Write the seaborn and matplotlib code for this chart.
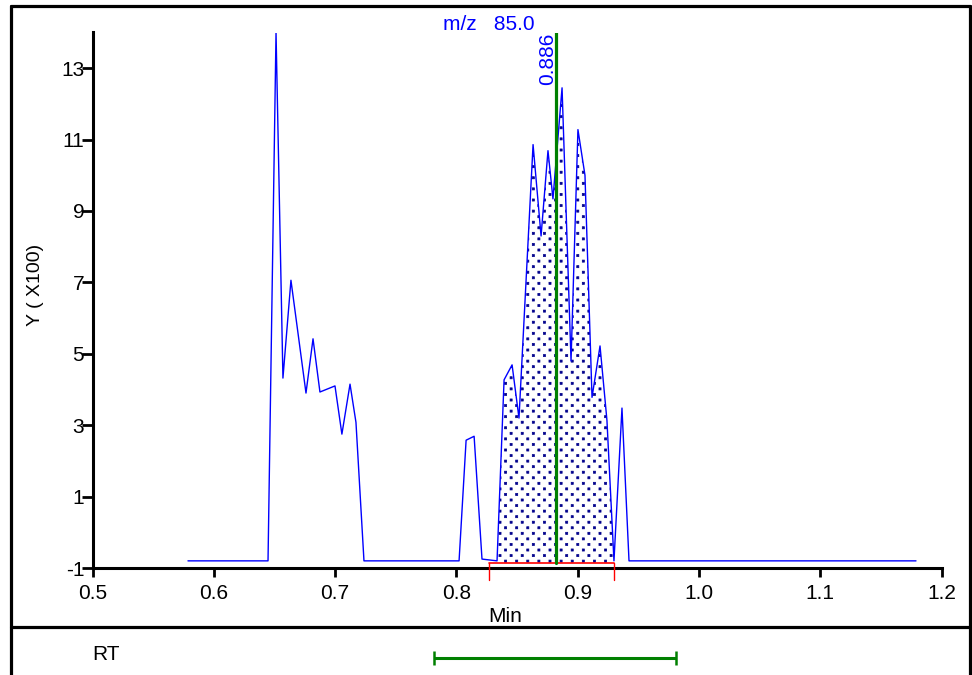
import numpy as np
import matplotlib
matplotlib.use("Agg")
import matplotlib.pyplot as plt
import matplotlib.hatch as mhatch
from matplotlib.path import Path
from matplotlib.lines import Line2D
import seaborn as sns

# ---- data ----
rt = [0.5787, 0.6447, 0.6513, 0.6570, 0.6636, 0.6760, 0.6818, 0.6875, 0.6999,
      0.7056, 0.7123, 0.7172, 0.7238, 0.8022, 0.8080, 0.8146, 0.8211, 0.8335,
      0.8393, 0.8459, 0.8516, 0.8632, 0.8698, 0.8755, 0.8796, 0.8871, 0.8945,
      0.9002, 0.9060, 0.9118, 0.9184, 0.9241, 0.9299, 0.9365, 0.9423, 1.1789]
intensity = [-0.80, -0.80, 14.00, 4.32, 7.06, 3.90, 5.42, 3.93, 4.10,
             2.75, 4.15, 3.08, -0.80, -0.80, 2.58, 2.69, -0.75, -0.80,
             4.27, 4.69, 3.20, 10.86, 8.30, 10.69, 9.34, 12.45, 4.80,
             11.28, 10.00, 3.78, 5.22, 3.14, -0.80, 3.48, -0.80, -0.80]
peak_start = 0.8269
peak_end = 0.9299
fill_start = 0.8335
peak_base = -0.86
apex_rt = 0.8819
apex_label = "0.886"
mass_label = "m/z   85.0"
rt_window = (0.7819, 0.9814)
x_ticks = [0.5, 0.6, 0.7, 0.8, 0.9, 1.0, 1.1, 1.2]
y_ticks = [-1, 1, 3, 5, 7, 9, 11, 13]


# ---- staggered square-dot hatch texture (replaces the '.' hatch) ----
class StaggerDots(mhatch.HatchPatternBase):
    def __init__(self, hatch, density):
        n = hatch.count('.')
        self.pts = []
        if n:
            ncols, nrows = 9, 18
            for r in range(nrows + 1):
                yy = r / nrows
                if r % 2 == 0:
                    xs = np.arange(ncols + 1) / ncols
                else:
                    xs = (np.arange(ncols) + 0.5) / ncols
                for xx in xs:
                    self.pts.append((xx, yy))
        self.sq = np.array([[-1, -1], [1, -1], [1, 1], [-1, 1], [-1, -1]], float)
        self.sq_codes = np.array([Path.MOVETO, Path.LINETO, Path.LINETO,
                                  Path.LINETO, Path.CLOSEPOLY], dtype=Path.code_type)
        self.num_vertices = len(self.pts) * 5

    def set_vertices_and_codes(self, vertices, codes):
        sv = self.sq * 0.0105
        np.concatenate([sv + np.array(p) for p in self.pts], out=vertices)
        np.concatenate([self.sq_codes] * len(self.pts), out=codes)


try:
    mhatch._hatch_types = [StaggerDots if t is mhatch.SmallFilledCircles else t
                           for t in mhatch._hatch_types]
except Exception:
    pass

sns.set_theme(style="ticks")
plt.rcParams["font.family"] = ["Liberation Sans", "DejaVu Sans"]
plt.rcParams["hatch.color"] = "#00008B"
plt.rcParams["hatch.linewidth"] = 0.5

W, H = 972, 675
fig = plt.figure(figsize=(W / 100, H / 100), dpi=100)
fig.patch.set_facecolor("white")

ax_l, ax_r, ax_t, ax_b = 92.5, 941.6, 32.5, 568.0
ax = fig.add_axes([ax_l / W, 1 - ax_b / H, (ax_r - ax_l) / W, (ax_b - ax_t) / H])
ax.set_facecolor("white")

sns.lineplot(x=rt, y=intensity, ax=ax, color="#0000FF", lw=1.0,
             estimator=None, sort=False, legend=False)

x = np.array(rt)
y = np.array(intensity)
mask = (x >= fill_start - 1e-9) & (x <= peak_end + 1e-9)
ax.fill_between(x[mask], y[mask], peak_base, facecolor="white",
                edgecolor="#00008B", hatch=".", linewidth=0, zorder=1)
ax.lines[0].set_zorder(3)

# integration baseline and markers
ax.plot([peak_start, peak_end], [peak_base, peak_base], color="red", lw=1.2, zorder=4)
for xv in (peak_start, peak_end):
    ax.plot([xv, xv], [peak_base, -1.34], color="red", lw=1.0, clip_on=False, zorder=4)

# apex line
ax.plot([apex_rt, apex_rt], [peak_base, 14], color="#008000", lw=2.3, zorder=5)
ax.text(apex_rt - 0.0064, 14, apex_label, rotation=90, ha="center", va="top",
        color="#0000FF", fontsize=15, zorder=6)

ax.set_xlim(0.5, 1.2)
ax.set_ylim(-1, 14)
ax.set_xticks(x_ticks)
ax.set_xticklabels([f"{v:.1f}" for v in x_ticks])
ax.set_yticks(y_ticks)
ax.set_yticklabels([str(v) for v in y_ticks])
ax.tick_params(axis="x", direction="out", length=6.5, width=2, pad=5,
               labelsize=15, colors="black")
ax.tick_params(axis="y", direction="out", length=8, width=2, pad=-2,
               labelsize=15, colors="black")
for s in ("top", "right"):
    ax.spines[s].set_visible(False)
for s in ("left", "bottom"):
    ax.spines[s].set_color("black")
    ax.spines[s].set_linewidth(2.2)

ax.set_xlabel("Min", fontsize=15, color="black")
ax.xaxis.set_label_coords(0.486, -0.072)
ax.set_ylabel("Y ( X100)", fontsize=14, color="black")
ax.yaxis.set_label_coords(-0.057, 0.528)

fig.text(489 / W, 1 - 30 / H, mass_label, ha="center", va="baseline",
         color="#0000FF", fontsize=15)

# bottom RT panel
ax2 = fig.add_axes([ax_l / W, 0.0, (ax_r - ax_l) / W, 47 / H])
ax2.set_xlim(0.5, 1.2)
ax2.set_ylim(0, 1)
ax2.axis("off")
ctr = (rt_window[0] + rt_window[1]) / 2
ax2.errorbar([ctr], [0.36], xerr=[(rt_window[1] - rt_window[0]) / 2], fmt="none",
             ecolor="#008000", elinewidth=2.2, capsize=5, capthick=1.8)
ax2.text(0.0, 0.43, "RT", transform=ax2.transAxes, ha="left", va="center",
         fontsize=15, color="black")

# outer frame
frame_kw = dict(color="black", lw=2.3, transform=fig.transFigure)
fig.add_artist(Line2D([10.5 / W, 970 / W], [1 - 6 / H, 1 - 6 / H], **frame_kw))
fig.add_artist(Line2D([10.5 / W, 10.5 / W], [0, 1 - 6 / H], **frame_kw))
fig.add_artist(Line2D([970 / W, 970 / W], [0, 1 - 6 / H], **frame_kw))
fig.add_artist(Line2D([10.5 / W, 970 / W], [1 - 627 / H, 1 - 627 / H], **frame_kw))

fig.savefig("out.png", dpi=100, facecolor="white")
